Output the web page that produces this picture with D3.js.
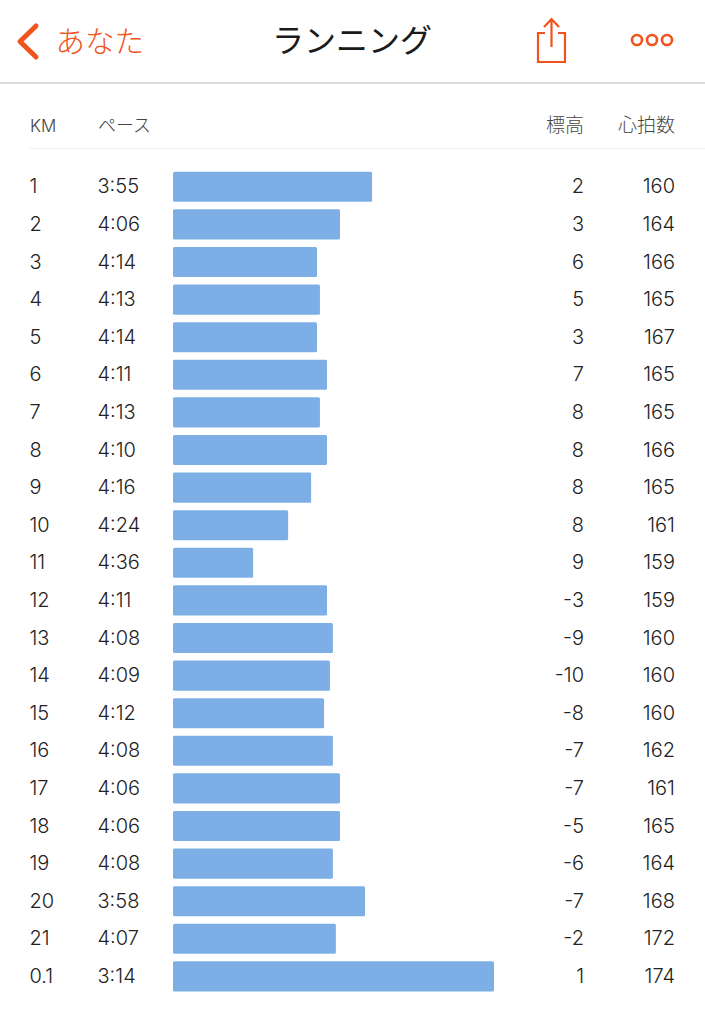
<!DOCTYPE html>
<html><head><meta charset="utf-8">
<script src="https://cdn.jsdelivr.net/npm/d3@7"></script>
<style>html,body{margin:0;background:#fff}svg{display:block}
text{font-family:"Inter","Noto Sans CJK JP",sans-serif;font-weight:300}</style></head><body>
<svg id="c" width="705" height="1024"></svg>
<script>
const kmLabels=["1","2","3","4","5","6","7","8","9","10","11","12","13","14","15","16","17","18","19","20","21","0.1"];
const paces=["3:55","4:06","4:14","4:13","4:14","4:11","4:13","4:10","4:16","4:24","4:36","4:11","4:08","4:09","4:12","4:08","4:06","4:06","4:08","3:58","4:07","3:14"];
const paceSeconds=[235.4,246.3,254.1,253.1,254.1,250.7,253.1,250.7,256.1,263.9,275.8,250.7,248.7,249.7,251.7,248.7,246.3,246.3,248.7,237.8,247.7,194];
const elevation=[2,3,6,5,3,7,8,8,8,8,9,-3,-9,-10,-8,-7,-7,-5,-6,-7,-2,1];
const heartRate=[160,164,166,165,167,165,165,166,165,161,159,159,160,160,160,162,161,165,164,168,172,174];
const columnHeads=["KM","ペース","標高","心拍数"];
const navBack="あなた", navTitle="ランニング";

const svg=d3.select("#c");
const orange="#f0541e", ink="#222222", barFill="#7eaee6";
const x=d3.scaleLinear().domain([303,194]).range([173,494]);
const y=d3.scaleBand().domain(d3.range(kmLabels.length)).range([168,995.2]).paddingInner(0.2).paddingOuter(0.1);
const cy=i=>y(i)+y.bandwidth()/2;

// nav bar
svg.append("path").attr("d","M36 26L20 41.5L36 57").attr("fill","none").attr("stroke",orange).attr("stroke-width",5).attr("stroke-linecap","round").attr("stroke-linejoin","round");
svg.append("text").text(navBack).attr("x",55.5).attr("y",51.5).attr("font-size",29.5).attr("fill",orange);
svg.append("text").text(navTitle).attr("x",352).attr("y",52).attr("text-anchor","middle").attr("font-size",32).attr("fill","#1a1a1a").style("font-weight",400);
svg.append("path").attr("d","M545 33H538V62H565V33H558M551.500 47V19M544 27L551.500 19L559 27").attr("fill","none").attr("stroke",orange).attr("stroke-width",2.2);
[637,652,667].forEach(cx=>svg.append("circle").attr("cx",cx).attr("cy",40).attr("r",5).attr("fill","none").attr("stroke",orange).attr("stroke-width",2.6));
svg.append("line").attr("x1",0).attr("x2",705).attr("y1",83).attr("y2",83).attr("stroke","#cfcfcf").attr("stroke-width",1.5);

// header
const headAttrs=[[30,"start"],[98,"start"],[584,"end"],[675,"end"]];
const headSizes=[17,18,19,19];
columnHeads.forEach((h,i)=>svg.append("text").text(h).attr("x",headAttrs[i][0]).attr("y",132).attr("text-anchor",headAttrs[i][1]).attr("font-size",headSizes[i]).attr("fill","#444"));
svg.append("line").attr("x1",30).attr("x2",705).attr("y1",148.500).attr("y2",148.500).attr("stroke","#eeeeee");

// bars
svg.selectAll("rect.bar").data(paceSeconds).join("rect").attr("class","bar")
 .attr("x",x(303)).attr("y",(d,i)=>y(i)).attr("height",y.bandwidth())
 .attr("width",d=>x(d)-x(303)).attr("rx",1.5).attr("fill",barFill);

// rows
const col=(data,xp,anchor)=>svg.selectAll(null).data(data).join("text").text(d=>d)
 .attr("x",xp).attr("y",(d,i)=>cy(i)+6.5).attr("text-anchor",anchor).attr("font-size",20).attr("fill",ink);
col(kmLabels,29.5,"start");
col(paces,97.5,"start");
col(elevation,584,"end");
col(heartRate,675,"end");
</script></body></html>
